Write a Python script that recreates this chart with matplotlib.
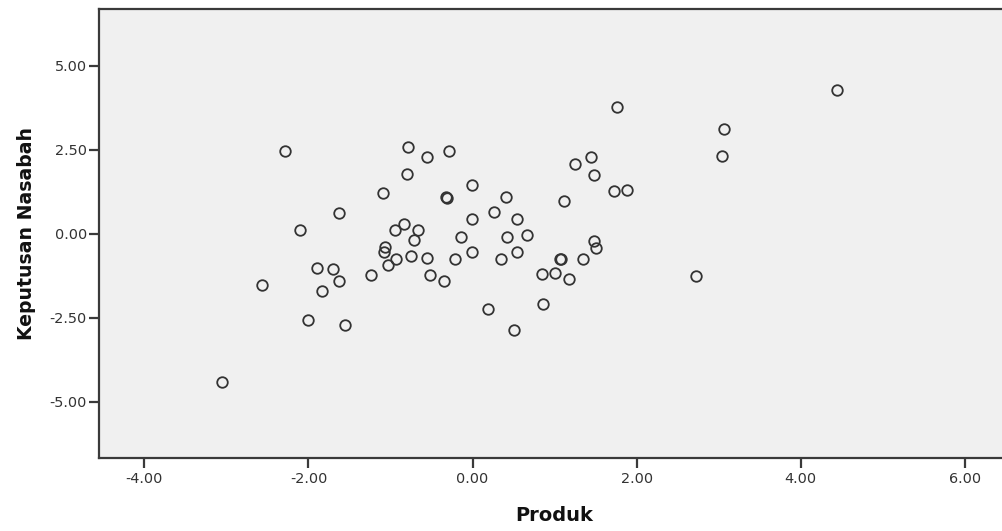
import matplotlib
matplotlib.use("Agg")
import matplotlib.pyplot as plt

produk = [-3.06, -2.57, -2.29, -2.10, -2.01, -1.89, -1.84, -1.70, -1.63, -1.63,
          -1.56, -1.24, -1.09, -1.07, -1.08, -1.03, -0.94, -0.93, -0.84, -0.79,
          -0.80, -0.75, -0.71, -0.66, -0.56, -0.56, -0.52, -0.35, -0.29, -0.32,
          -0.31, -0.21, -0.14, -0.01, -0.01, -0.01, 0.19, 0.26, 0.35, 0.41,
          0.42, 0.50, 0.54, 0.54, 0.67, 0.85, 0.86, 1.01, 1.07, 1.08,
          1.11, 1.18, 1.25, 1.35, 1.44, 1.48, 1.48, 1.50, 1.72, 1.76,
          1.88, 2.73, 3.04, 3.06, 4.44]
keputusan = [-4.42, -1.54, 2.45, 0.10, -2.56, -1.01, -1.72, -1.06, 0.61, -1.40,
             -2.73, -1.24, 1.22, -0.40, -0.54, -0.93, 0.12, -0.75, 0.29, 2.59,
             1.78, -0.67, -0.19, 0.12, 2.27, -0.72, -1.24, -1.41, 2.46, 1.09,
             1.07, -0.75, -0.09, 1.45, 0.45, -0.55, -2.23, 0.64, -0.76, 1.10,
             -0.09, -2.87, 0.44, -0.56, -0.03, -1.19, -2.08, -1.17, -0.75, -0.74,
             0.98, -1.35, 2.07, -0.76, 2.27, 1.76, -0.23, -0.43, 1.28, 3.76,
             1.29, -1.25, 2.31, 3.13, 4.28]

xticks = [-4, -2, 0, 2, 4, 6]
yticks = [-5, -2.5, 0, 2.5, 5]
xlabel = "Produk"
ylabel = "Keputusan Nasabah"

W, H = 1003, 531
fig = plt.figure(figsize=(W / 100, H / 100), dpi=100)
fig.patch.set_facecolor("white")
left, right, top, bottom = 99.3, 1009, 9.3, 457.7
ax = fig.add_axes([left / W, 1 - bottom / H, (right - left) / W, (bottom - top) / H])
ax.set_facecolor("#f0f0f0")

ax.plot(produk, keputusan, linestyle="none", marker="o", markersize=7.6,
        markerfacecolor="none", markeredgecolor="#333333", markeredgewidth=1.3)

ax.set_xlim(-4.55, 6.54)
ax.set_ylim(-6.67, 6.68)
ax.set_xticks(xticks)
ax.set_yticks(yticks)
ax.set_xticklabels([f"{v:.2f}" for v in xticks])
ax.set_yticklabels([f"{v:.2f}" for v in yticks])

for s in ["left", "bottom", "top", "right"]:
    ax.spines[s].set_color("#3a3a3a")
    ax.spines[s].set_linewidth(1.6)

ax.tick_params(axis="both", colors="#3a3a3a", labelcolor="#333333",
               labelsize=10.4, width=1.6, length=7.5)
ax.tick_params(axis="y", pad=1.5)
ax.tick_params(axis="x", pad=3)

ax.set_xlabel(xlabel, fontsize=14, fontweight="bold", color="#111111", labelpad=14)
ax.set_ylabel(ylabel, fontsize=13.6, fontweight="bold", color="#111111", labelpad=10)

fig.savefig("out.png", dpi=100, facecolor="white")
